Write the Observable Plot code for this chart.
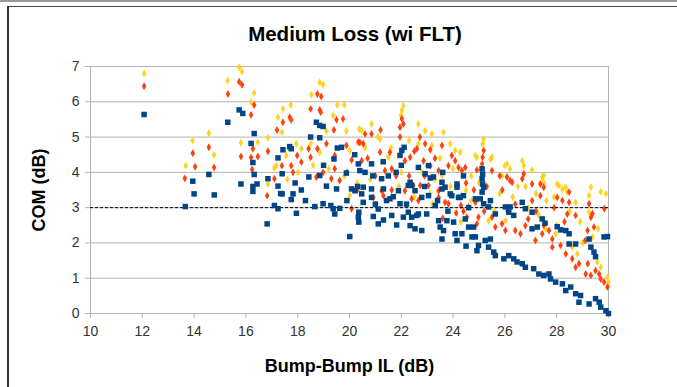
<!DOCTYPE html>
<html>
<head>
<meta charset="utf-8">
<script src="https://cdn.jsdelivr.net/npm/d3@7"></script>
<script src="https://cdn.jsdelivr.net/npm/@observablehq/plot@0.6"></script>
<style>
  html, body { margin: 0; padding: 0; background: #fff; }
  #wrap { position: relative; width: 677px; height: 387px; overflow: hidden; font-family: "Liberation Sans", Arial, sans-serif; }
  #chart { position: absolute; left: 0; top: 0; }
  #title { position: absolute; left: 0; width: 710px; top: 22px; text-align: center; font-weight: bold; font-size: 20.5px; line-height: 24px; color: #000; }
  .topline { position: absolute; left: 0; top: 0; width: 677px; height: 2px; background: #9a9a9a; }
  .boxtop { position: absolute; left: 7px; top: 6px; width: 670px; height: 1px; background: #444; }
  .boxleft { position: absolute; left: 7px; top: 6px; width: 2px; height: 381px; background: #333; }
  g[aria-label="x-axis label"] text, g[aria-label="y-axis label"] text { font-weight: bold; font-size: 18px; fill: #000; }
</style>
</head>
<body>
<div id="wrap">
  <div class="topline"></div>
  <div class="boxtop"></div>
  <div class="boxleft"></div>
  <div id="chart"></div>
  <div id="title">Medium Loss (wi FLT)</div>
</div>
<script>
const titleText = "Medium Loss (wi FLT)";
const xLabel = "Bump-Bump IL (dB)";
const yLabel = "COM (dB)";
const xTicks = [10, 12, 14, 16, 18, 20, 22, 24, 26, 28, 30];
const yTicks = [0, 1, 2, 3, 4, 5, 6, 7];
const limitCOM = [3];

// Series 1 (blue squares): [IL, COM]
const blueSeries = [
[12.07,5.64],[13.66,3.03],[13.95,3.75],[14.0,3.39],[14.57,3.94],[14.78,3.36],[15.3,5.42],[15.74,5.77],[15.88,5.67],[15.81,3.67],
[16.2,4.82],[16.32,5.1],[16.27,4.28],[16.32,3.94],[16.27,3.6],[16.43,3.67],[16.27,3.46],[16.85,3.82],[16.82,2.54],[17.1,3.06],
[17.24,2.97],[17.34,3.4],[17.24,4.41],[17.24,3.61],[17.43,4.64],[17.69,4.73],[17.75,4.67],[17.4,3.96],[17.4,3.39],[17.75,3.23],
[17.82,3.39],[18.14,3.5],[17.95,2.84],[18.43,3.87],[18.5,5.0],[18.72,5.42],[18.85,5.33],[18.98,5.3],[18.85,4.98],[18.85,3.91],
[18.66,3.03],[18.98,3.11],[19.28,3.06],[19.37,2.97],[19.62,2.98],[19.43,2.82],[19.11,3.61],[19.5,3.53],[19.53,4.69],[19.69,4.71],
[19.4,4.38],[19.88,3.98],[20.08,3.53],[20.31,3.6],[20.01,2.18],[20.21,3.48],[20.47,3.39],[20.34,2.73],[20.36,2.59],[20.36,2.87],
[20.53,3.15],[20.85,3.29],[20.92,2.75],[21.11,2.54],[21.31,2.65],[21.11,2.96],[21.43,3.2],[21.63,2.78],[21.82,2.51],[21.95,3.11],
[22.08,2.73],[22.27,2.87],[22.4,2.73],[22.34,2.49],[22.53,2.4],[22.79,2.35],[22.66,2.82],[22.98,2.82],[23.05,3.34],[23.31,3.06],
[23.44,2.63],[23.5,2.45],[23.63,2.35],[23.57,2.11],[23.76,2.63],[24.02,2.59],[24.08,2.26],[24.15,2.07],[24.34,2.26],[24.5,1.91],
[24.6,2.45],[23.95,3.34],[24.21,3.29],[24.4,3.34],[22.79,3.29],[22.53,3.48],[22.27,3.63],[21.89,3.48],[21.69,3.31],[21.31,3.53],
[20.85,3.53],[21.95,4.48],[22.02,4.62],[22.11,4.71],[20.85,4.24],[20.4,4.05],[20.6,4.0],[21.24,3.82],[20.53,3.58],[22.66,4.14],
[22.92,3.96],[23.12,3.84],[23.24,3.87],[22.4,3.63],[22.34,3.72],[21.56,3.25],[23.57,3.53],[23.89,3.39],[24.27,3.29],[24.15,3.58],
[20.34,4.24],[24.47,2.68],[22.6,2.78],[25.12,3.82],[25.14,3.67],[25.18,3.58],[25.12,3.44],[25.05,3.25],[24.86,3.25],[25.18,3.11],
[25.44,3.2],[25.37,3.02],[25.63,2.82],[26.2,3.02],[26.15,2.87],[26.67,3.15],[26.79,2.97],[26.34,2.78],[27.05,2.87],[27.44,2.68],
[27.55,2.56],[27.05,2.4],[27.25,2.45],[28.02,2.46],[28.15,2.37],[28.35,2.35],[28.48,2.26],[28.48,1.97],[28.73,1.97],[29.25,2.11],
[29.32,1.88],[29.44,1.74],[29.5,1.61],[29.83,2.17],[29.96,2.18],[26.02,3.02],[24.79,2.45],[24.86,2.17],[25.24,2.07],[25.44,2.11],
[24.98,1.93],[25.37,1.88],[25.57,1.74],[25.63,1.64],[24.92,1.78],[25.96,1.55],[26.15,1.64],[26.34,1.55],[26.47,1.46],[26.67,1.41],
[26.79,1.31],[27.11,1.27],[27.31,1.12],[27.5,1.08],[27.7,1.12],[27.76,0.98],[27.96,0.89],[28.22,0.84],[28.35,0.65],[28.54,0.75],
[28.73,0.56],[28.92,0.51],[28.86,0.32],[29.25,0.27],[29.5,0.42],[29.64,0.32],[29.7,0.18],[29.9,0.08],[30.0,0.0],[24.73,2.17],
[25.12,4.1],[25.14,3.95],[23.57,3.72],[23.69,3.58],[24.15,3.67],[23.05,4.19],
[21.5,3.9],[21.8,4.0],[20.9,3.9],[22.9,3.6],[23.4,3.2],[24.6,3.0],[23.8,2.9],[21.0,3.1],[22.2,3.1],[19.9,3.2],
[18.3,3.2],[17.9,3.7],[19.0,4.2],[20.2,4.5],[21.3,4.3],[23.6,4.0],[24.4,3.9],[22.0,4.2]
];

// Series 2 (orange-red diamonds)
const redSeries = [
[12.07,6.44],[13.64,3.83],[13.95,4.54],[14.04,4.16],[14.57,4.71],[14.77,4.14],[15.31,6.22],[15.74,6.57],[15.85,6.48],[16.32,5.91],
[16.2,5.63],[16.27,4.67],[15.81,4.45],[16.2,4.42],[16.46,4.45],[16.85,4.6],[16.24,4.08],[17.1,3.82],[16.82,3.34],[17.69,5.56],
[17.43,5.42],[17.75,5.49],[18.76,6.22],[18.91,6.15],[18.5,5.8],[18.85,5.77],[18.89,5.7],[19.5,5.49],[19.75,5.51],[19.4,5.2],
[17.2,5.2],[18.42,4.67],[18.76,4.67],[19.11,4.81],[19.88,4.76],[19.43,4.48],[20.4,4.85],[17.98,4.48],[18.5,4.43],[20.08,4.35],
[17.75,4.19],[17.39,4.19],[18.14,4.29],[17.82,4.0],[18.72,3.87],[18.98,4.0],[19.3,3.82],[19.62,3.77],[19.43,4.1],[20.08,2.97],
[20.92,3.29],[21.31,3.34],[21.63,3.5],[22.14,3.48],[22.46,3.63],[22.73,3.63],[23.05,3.63],[23.44,3.48],[23.69,3.15],[24.12,2.85],
[24.6,3.02],[24.3,3.06],[22.02,5.52],[22.08,5.37],[21.95,5.28],[21.95,5.0],[22.72,5.0],[22.92,4.81],[23.12,4.64],[22.6,4.67],
[23.57,4.76],[23.95,4.48],[24.08,4.33],[23.82,4.19],[24.21,4.14],[24.34,4.05],[23.44,4.05],[20.34,4.86],[20.53,4.81],[20.6,5.09],
[20.85,5.09],[21.18,4.57],[21.56,4.57],[22.34,4.43],[22.14,4.33],[20.47,4.33],[21.37,4.05],[21.63,4.1],[23.12,4.19],[22.86,4.33],
[21.24,3.48],[22.4,3.25],[22.66,3.2],[23.44,3.29],[23.82,3.11],[24.53,2.73],[24.86,3.15],[25.18,4.62],[25.14,4.43],[25.12,4.24],
[24.92,4.07],[24.47,4.14],[25.5,4.05],[26.08,3.87],[26.2,3.77],[26.73,3.96],[26.67,3.82],[27.05,3.67],[27.37,3.67],[26.28,3.72],
[27.5,3.58],[27.37,3.34],[27.05,3.2],[28.02,3.29],[28.22,3.2],[28.48,3.15],[28.41,2.82],[29.25,3.11],[29.32,2.73],[29.19,2.35],
[29.64,1.12],[29.7,0.98],[29.83,0.89],[29.96,0.75],[29.32,1.08],[29.12,1.12],[28.86,1.41],[28.73,1.31],[28.6,1.55],[28.35,1.69],
[28.15,1.93],[27.83,2.11],[27.83,1.88],[27.7,2.35],[27.44,2.26],[26.9,2.68],[26.79,2.49],[27.18,2.07],[26.6,2.26],[26.4,2.35],
[26.02,2.35],[25.89,2.54],[25.63,2.45],[25.5,2.73],[24.98,2.73],[24.92,2.54],[29.84,2.97],[29.38,2.83],[29.44,2.45],[29.1,2.07],
[29.2,1.41],[29.5,1.22],[28.73,2.78],[28.48,3.44],
[21.0,3.9],[21.8,3.9],[22.3,3.9],[22.9,3.9],[23.3,4.4],[24.5,3.7],[24.8,3.5],[25.3,3.6],[25.9,3.5],[26.4,3.1],
[26.1,2.9],[25.2,2.9],[24.4,2.9],[23.6,2.7],[20.3,3.5],[19.9,4.0],[21.2,5.2],[20.7,4.4],[22.5,4.6],[25.8,3.9],
[27.9,3.0],[27.2,2.9],[28.3,2.6],[27.5,2.5]
];

// Series 3 (yellow markers)
const yellowSeries = [
[12.07,6.8],[13.68,4.19],[13.94,4.9],[14.57,5.11],[14.77,4.5],[15.74,6.98],[15.85,6.86],[15.3,6.6],[16.32,6.25],[16.2,5.99],
[15.81,4.84],[16.46,4.85],[16.85,4.98],[16.85,3.67],[17.17,4.19],[17.73,5.91],[17.43,5.8],[17.24,5.56],[18.85,6.55],[18.98,6.49],
[18.53,6.2],[19.53,5.91],[19.8,5.91],[19.37,5.61],[19.11,5.17],[19.88,5.17],[20.38,5.23],[17.39,5.14],[17.56,4.48],[17.95,4.81],
[18.14,4.67],[18.5,4.81],[18.85,4.57],[20.01,4.62],[17.1,4.13],[18.01,4.0],[20.01,3.34],[22.08,5.89],[22.02,5.75],[21.99,5.61],
[22.66,5.37],[22.92,5.18],[23.18,5.09],[23.63,5.14],[22.66,4.81],[23.18,4.76],[23.89,4.81],[24.08,4.62],[24.27,4.57],[23.57,3.91],
[20.47,5.18],[20.85,5.37],[21.18,4.94],[21.5,4.43],[25.18,4.94],[25.14,4.81],[24.92,4.43],[25.5,4.43],[26.0,4.19],[26.2,4.1],
[26.67,4.33],[26.73,4.19],[27.05,4.07],[27.5,3.91],[28.02,3.67],[28.35,3.58],[29.32,3.58],[24.86,4.48],[25.44,4.38],[26.08,4.24],
[27.44,3.87],[27.5,3.72],[28.09,3.63],[28.22,3.53],[28.41,3.44],[28.73,3.15],[29.25,3.34],[29.25,2.87],[29.38,2.17],[29.57,1.46],
[29.7,1.31],[29.96,1.03],[30.0,0.89],[28.8,1.69],[28.6,1.88],[27.96,2.26],[27.57,2.4],[25.37,2.63],[26.02,2.63],[29.9,3.39],
[22.8,4.0],[23.3,3.8],[23.9,3.6],[24.5,3.5],[20.8,3.8],[21.9,3.6],[22.5,3.3],[23.1,3.4],[24.7,3.2],[25.8,3.4],
[26.3,3.3],[26.9,3.0],[27.3,2.8],[25.6,2.9],[24.3,2.6],[28.0,2.5],[29.0,2.0],[28.9,2.6],[29.6,2.4],[27.6,3.2],
[26.5,3.6],[19.2,4.1],[18.6,4.2],[19.8,3.9],[20.3,3.7],[17.6,3.8],[29.7,3.45],
[21.6,4.7],[22.3,4.9],[23.5,4.4],[24.0,4.1],[24.7,3.9],[25.9,3.9],[26.8,3.6],[27.2,3.4],[27.9,3.3],[28.5,2.9],
[20.6,4.7],[21.1,5.0],[22.0,4.0],[23.2,3.1],[25.0,3.7]
];

const colors = { blue: "#004586", red: "#ff420e", yellow: "#ffd320" };
const gridColor = "#b3b3b3";

const chart = Plot.plot({
  width: 677,
  height: 387,
  marginTop: 66,
  marginBottom: 74,
  marginLeft: 90,
  marginRight: 69,
  style: { fontFamily: "'Liberation Sans', Arial, sans-serif", fontSize: "14px", background: "transparent", overflow: "visible" },
  x: { domain: [10, 30] },
  y: { domain: [0, 7] },
  marks: [
    Plot.gridY(yTicks, { stroke: gridColor, strokeOpacity: 1, strokeWidth: 1 }),
    Plot.ruleX([xTicks[0], xTicks[xTicks.length - 1]], { stroke: gridColor, strokeWidth: 1 }),
    Plot.axisX(xTicks, {
      tickSize: 5, tickPadding: 8, stroke: gridColor, fill: "#333", fontSize: 14,
      label: xLabel, labelAnchor: "center", labelArrow: "none", labelOffset: 58
    }),
    Plot.axisY(yTicks, {
      tickSize: 5, tickPadding: 6, stroke: gridColor, fill: "#333", fontSize: 14,
      label: yLabel, labelAnchor: "center", labelArrow: "none", labelOffset: 58
    }),
    Plot.dot(yellowSeries, { x: d => d[0], y: d => d[1], symbol: "diamond", r: 2.4, fill: colors.yellow, stroke: "none" }),
    Plot.dot(redSeries, { x: d => d[0], y: d => d[1], symbol: "diamond", r: 2.4, fill: colors.red, stroke: "none" }),
    Plot.ruleY(limitCOM, { stroke: "#000", strokeWidth: 1, strokeDasharray: "3,2" }),
    Plot.dot(blueSeries, { x: d => d[0], y: d => d[1], symbol: "square", r: 3.1, fill: colors.blue, stroke: "none" })
  ]
});
document.getElementById("chart").appendChild(chart);
document.getElementById("title").textContent = titleText;
</script>
</body>
</html>
